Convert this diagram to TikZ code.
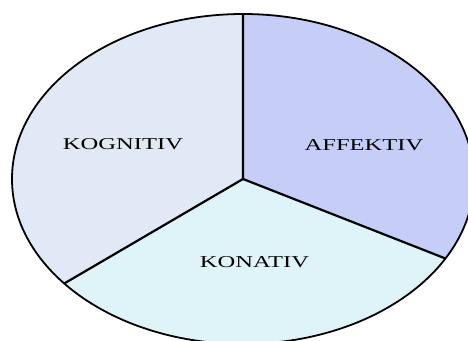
\documentclass[tikz,border=0pt]{standalone}
\usepackage{fontspec}
\setmainfont{Liberation Serif}
\usetikzlibrary{positioning, calc}
\definecolor{kogblue}{HTML}{E0E9F5}
\definecolor{affblue}{HTML}{C6CEF8}
\definecolor{konblue}{HTML}{DEF4F8}
\newcommand{\widelabel}[1]{\scalebox{1.48}[1]{#1}}

\begin{document}
\begin{tikzpicture}[
  x=1pt, y=1pt,
  sector label/.style={font=\fontsize{16.6}{20}\selectfont, text=black, inner sep=0pt},
  rim/.style={black, line width=1.8pt},
]

% Frame
\useasboundingbox (0,0) rectangle (468,340);
\clip (0,0) rectangle (468,340);

% Centre and spoke ends
\coordinate (c) at (243,161);
\coordinate (top) at ($(c)+(90:231pt and 165pt)$);
\coordinate (rgt) at ($(c)+(-28.8:231pt and 165pt)$);
\coordinate (lft) at ($(c)+(219.3:231pt and 165pt)$);

% === Sectors ===
\fill[affblue] (c) -- (top) arc[start angle=90, end angle=-28.8, x radius=231pt, y radius=165pt] -- cycle;
\fill[konblue] (c) -- (rgt) arc[start angle=-28.8, end angle=-140.7, x radius=231pt, y radius=165pt] -- cycle;
\fill[kogblue] (c) -- (lft) arc[start angle=219.3, end angle=90, x radius=231pt, y radius=165pt] -- cycle;

% Outline and spokes
\draw[rim] (c) ellipse[x radius=231pt, y radius=165pt];
\draw[rim, line width=2.2pt, line join=miter] (top) -- (c) -- (rgt);
\draw[rim, line width=2.2pt] (c) -- (lft);

% === Labels ===
\node[sector label] (kog) at (123,195.5) {\widelabel{KOGNITIV}};
\node[sector label] (aff) at (364,194.5) {\widelabel{AFFEKTIV}};
\node[sector label] (kon) at (254.5,77.5) {\widelabel{KONATIV}};

\end{tikzpicture}
\end{document}
